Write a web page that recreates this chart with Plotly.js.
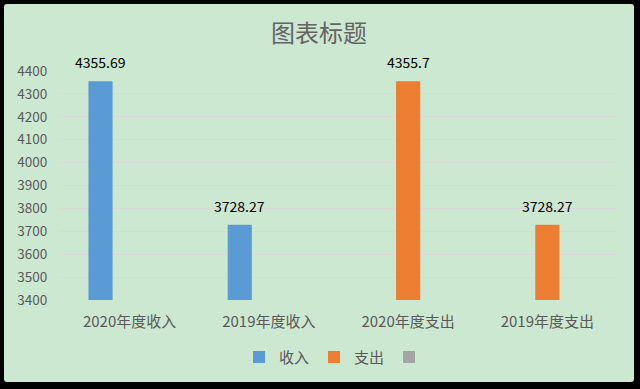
<!DOCTYPE html>
<html>
<head>
<meta charset="utf-8">
<script src="https://cdn.plot.ly/plotly-3.0.1.min.js"></script>
<style>
html,body{margin:0;padding:0;background:#000;width:640px;height:389px;overflow:hidden;}
#chart{position:absolute;left:4px;top:4px;width:630px;height:378px;border-radius:3px;overflow:hidden;}
</style>
</head>
<body>
<div id="chart"></div>
<script>
const categories = ['2020年度收入', '2019年度收入', '2020年度支出', '2019年度支出'];
const seriesNames = ['收入', '支出', ' '];
const incomeValues = [4355.69, 3728.27, null, null];
const expenseValues = [null, null, 4355.7, 3728.27];
const emptyValues = [null, null, null, null];
const incomeLabels = ['4355.69', '3728.27', null, null];
const expenseLabels = [null, null, '4355.7', '3728.27'];
const yTicks = [3400, 3500, 3600, 3700, 3800, 3900, 4000, 4100, 4200, 4300, 4400];

const colors = ['#5b9bd5', '#ed7d31', '#a5a5a5'];
const fontFam = '"Noto Sans CJK SC", "Noto Sans", sans-serif';
const bargap = 0.373;
const nSeries = 3;
const slotW = (1 - bargap) / nSeries;

const seriesVals = [incomeValues, expenseValues, emptyValues];
const seriesLabels = [incomeLabels, expenseLabels, [null, null, null, null]];

const traces = seriesVals.map((vals, s) => ({
  type: 'bar',
  name: seriesNames[s],
  x: categories,
  y: vals,
  marker: {color: colors[s]},
  hoverinfo: 'none'
}));

const annotations = [];
seriesVals.forEach((vals, s) => {
  vals.forEach((v, i) => {
    if (v === null) return;
    annotations.push({
      x: i + (s - 1) * slotW,
      y: v,
      xref: 'x', yref: 'y',
      text: seriesLabels[s][i],
      showarrow: false,
      yshift: 19,
      font: {family: fontFam, size: 14, color: '#000000'}
    });
  });
});

const layout = {
  width: 630, height: 378,
  paper_bgcolor: '#cde8d0',
  plot_bgcolor: '#cde8d0',
  margin: {l: 56, r: 17, t: 67, b: 82, autoexpand: false},
  barmode: 'group',
  bargap: bargap,
  bargroupgap: 0.17,
  title: {text: '图表标题', x: 0.5, xanchor: 'center', y: 0.923, yanchor: 'middle',
          font: {family: fontFam, size: 24, color: '#646464'}},
  xaxis: {
    type: 'category',
    automargin: false,
    showgrid: false, showline: false, zeroline: false,
    ticks: 'outside', ticklen: 8, tickcolor: 'rgba(0,0,0,0)',
    tickfont: {family: fontFam, size: 15, color: '#595959'}
  },
  yaxis: {
    range: [3400, 4400],
    automargin: false,
    tickvals: yTicks,
    ticktext: yTicks.map(String),
    showgrid: true, gridcolor: '#d9d9d9', gridwidth: 1,
    zeroline: false, showline: false,
    ticks: 'outside', ticklen: 9, tickcolor: 'rgba(0,0,0,0)',
    tickfont: {family: fontFam, size: 13.5, color: '#595959'}
  },
  showlegend: true,
  legend: {
    orientation: 'h', x: 0.5, xanchor: 'center', y: -0.25, yanchor: 'middle',
    font: {family: fontFam, size: 15, color: '#595959'},
    bgcolor: 'rgba(0,0,0,0)', itemwidth: 30, traceorder: 'normal'
  },
  annotations: annotations
};

Plotly.newPlot('chart', traces, layout, {displayModeBar: false, staticPlot: true});
</script>
</body>
</html>
